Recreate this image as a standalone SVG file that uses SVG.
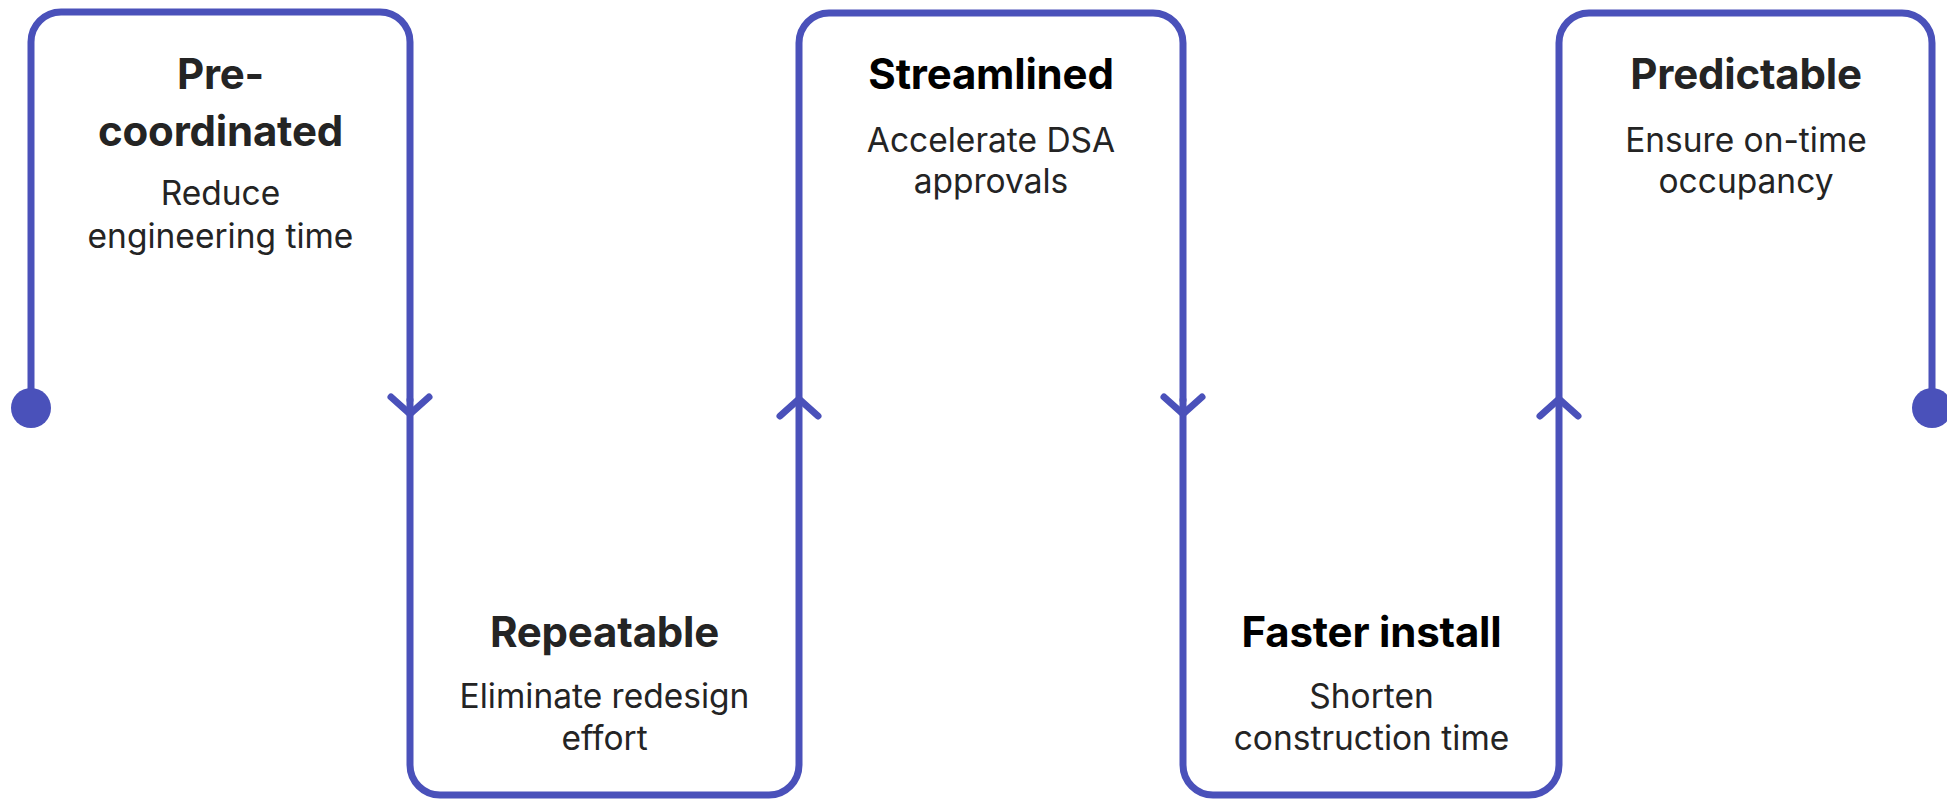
<svg xmlns="http://www.w3.org/2000/svg" width="1947" height="799" viewBox="0 0 1947 799">
<style>
.ln{fill:none;stroke:#4A51BA;stroke-width:7;stroke-linecap:round;stroke-linejoin:round}
.dot{fill:#4A51BA}
.t{font-family:Inter,"Liberation Sans",sans-serif;font-weight:700;font-size:42px;text-anchor:middle;fill:#242424;letter-spacing:-0.2px}
.tk{fill:#000}
.s{font-family:Inter,"Liberation Sans",sans-serif;font-weight:400;font-size:33.5px;text-anchor:middle;fill:#242424}
</style>
<rect width="1947" height="799" fill="#fff"/>
<g id="node-precoordinated">
<path class="ln" d="M31,408 V42 A30,30 0 0 1 61,12 H380 A30,30 0 0 1 410,42 V400"/>
<circle class="dot" cx="31" cy="408" r="20"/>
<text class="t" x="220.5" y="89">Pre-</text>
<text class="t" x="220.5" y="146">coordinated</text>
<text class="s" x="220.5" y="205">Reduce</text>
<text class="s" x="220.5" y="248">engineering time</text>
</g>
<g id="node-repeatable">
<path class="ln" d="M410,400 V765 A30,30 0 0 0 440,795 H769 A30,30 0 0 0 799,765 V400"/>
<text class="t" x="604.5" y="647">Repeatable</text>
<text class="s" x="604.5" y="708">Eliminate redesign</text>
<text class="s" x="604.5" y="750">effort</text>
</g>
<g id="node-streamlined">
<path class="ln" d="M799,400 V43 A30,30 0 0 1 829,13 H1153 A30,30 0 0 1 1183,43 V400"/>
<text class="t tk" x="991" y="89">Streamlined</text>
<text class="s" x="991" y="152">Accelerate DSA</text>
<text class="s" x="991" y="193">approvals</text>
</g>
<g id="node-faster-install">
<path class="ln" d="M1183,400 V765 A30,30 0 0 0 1213,795 H1529 A30,30 0 0 0 1559,765 V400"/>
<text class="t tk" x="1371.5" y="647">Faster install</text>
<text class="s" x="1371.5" y="708">Shorten</text>
<text class="s" x="1371.5" y="750">construction time</text>
</g>
<g id="node-predictable">
<path class="ln" d="M1559,400 V43 A30,30 0 0 1 1589,13 H1902 A30,30 0 0 1 1932,43 V408"/>
<circle class="dot" cx="1932" cy="408" r="20"/>
<text class="t" x="1746" y="89">Predictable</text>
<text class="s" x="1746" y="152">Ensure on-time</text>
<text class="s" x="1746" y="193">occupancy</text>
</g>
<g id="connectors">
<path class="ln" d="M391,397 L410,414 L429,397"/>
<path class="ln" d="M780,416 L799,399 L818,416"/>
<path class="ln" d="M1164,397 L1183,414 L1202,397"/>
<path class="ln" d="M1540,416 L1559,399 L1578,416"/>
</g>
</svg>
